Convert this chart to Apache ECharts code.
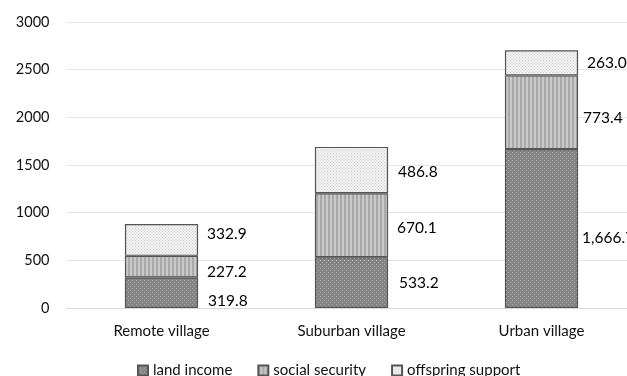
<!DOCTYPE html>
<html>
<head>
<meta charset="utf-8">
<script src="https://cdn.jsdelivr.net/npm/echarts@6/dist/echarts.min.js"></script>
<style>
  html, body { margin: 0; padding: 0; background: #fff; }
  #chart { width: 627px; height: 376px; }
</style>
</head>
<body>
<div id="chart"></div>
<script>
// Village types on the x axis
const categories = ['Remote village', 'Suburban village', 'Urban village'];

// Income sources (stacked)
const landIncome = [319.8, 533.2, 1666.7];
const socialSecurity = [227.2, 670.1, 773.4];
const offspringSupport = [332.9, 486.8, 263.0];

const seriesNames = ['land income', 'social security', 'offspring support'];

// Per-label nudges [dx, dy] in px so the value labels don't crowd each other
const labelNudge = [
  [[1, 8], [2, 0], [-5, 9]],
  [[0, 5], [0, 3], [-4, 6]],
  [[0, -6], [1, 2], [0, 0]]
];

// Small tiled canvases used as hatch fills
function dotPattern(bg, dot, step) {
  const c = document.createElement('canvas');
  c.width = step; c.height = step;
  const g = c.getContext('2d');
  g.fillStyle = bg; g.fillRect(0, 0, step, step);
  g.fillStyle = dot;
  g.fillRect(0, 0, 1, 1);
  g.fillRect(step / 2, step / 2, 1, 1);
  return c;
}
function stripePattern(a, b) {
  const c = document.createElement('canvas');
  c.width = 4; c.height = 4;
  const g = c.getContext('2d');
  g.fillStyle = a; g.fillRect(0, 0, 4, 4);
  g.fillStyle = b; g.fillRect(0, 0, 2, 4);
  return c;
}

const fills = [
  { image: dotPattern('#858585', '#a8a8a8', 4), repeat: 'repeat' },
  { image: stripePattern('#c9c9c9', '#a9a9a9'), repeat: 'repeat' },
  { image: dotPattern('#f2f2f2', '#cfcfcf', 3), repeat: 'repeat' }
];

const fmt = v => v.toLocaleString('en-US', { minimumFractionDigits: 1, maximumFractionDigits: 1 });

const values = [landIncome, socialSecurity, offspringSupport];
const FONT = 'Lato';

const chart = echarts.init(document.getElementById('chart'), null, { renderer: 'canvas' });
chart.setOption({
  animation: false,
  textStyle: { fontFamily: FONT },
  grid: { left: 66.5, top: 22, bottom: 68, width: 570, outerBoundsMode: 'none', containLabel: false },
  legend: {
    top: 363,
    left: 137,
    padding: 0,
    itemWidth: 10,
    itemHeight: 10,
    itemGap: 25,
    icon: 'rect',
    textStyle: { fontFamily: FONT, fontSize: 15, color: '#111' },
    data: seriesNames
  },
  xAxis: {
    type: 'category',
    data: categories,
    axisLine: { lineStyle: { color: '#d9d9d9' } },
    axisTick: { show: false },
    axisLabel: { fontFamily: FONT, fontSize: 15, color: '#111', margin: 16 }
  },
  yAxis: {
    type: 'value',
    min: 0, max: 3000, interval: 500,
    splitLine: { lineStyle: { color: '#e6e6e6' } },
    axisLabel: { fontFamily: FONT, fontSize: 14.5, color: '#111', margin: 17, formatter: v => String(v) }
  },
  series: seriesNames.map((name, i) => ({
    name,
    type: 'bar',
    stack: 'total',
    barWidth: '38.5%',
    data: values[i].map((v, j) => ({
      value: v,
      label: { offset: labelNudge[i][j] }
    })),
    itemStyle: { color: fills[i], borderColor: '#555', borderWidth: 1.2 },
    label: {
      show: true,
      position: 'right',
      distance: 9,
      fontFamily: FONT,
      fontSize: 15.5,
      color: '#000',
      formatter: p => fmt(p.value)
    }
  }))
});
</script>
</body>
</html>
